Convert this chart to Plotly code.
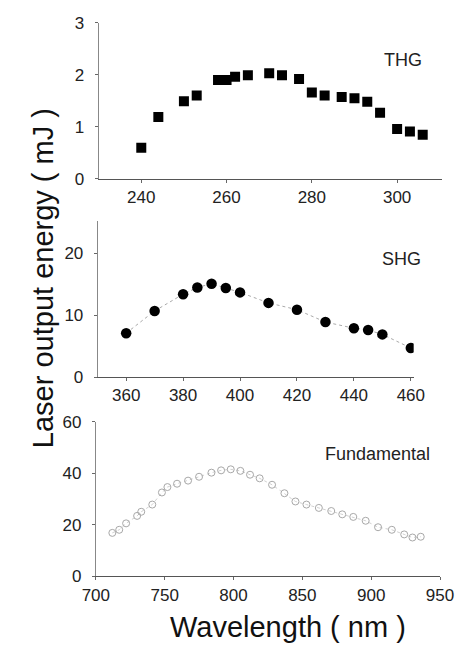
import plotly.graph_objects as go

W, H = 470, 657

# THG data
thg_x = [240, 244, 250, 253, 258, 260, 262, 265, 270, 273, 277, 280, 283, 287, 290, 293, 296, 300, 303, 306]
thg_y = [0.60, 1.19, 1.49, 1.60, 1.90, 1.90, 1.96, 1.99, 2.03, 1.99, 1.92, 1.66, 1.60, 1.57, 1.55, 1.48, 1.27, 0.96, 0.91, 0.85]

# SHG data
shg_x = [360, 370, 380, 385, 390, 395, 400, 410, 420, 430, 440, 445, 450, 460]
shg_y = [7.1, 10.7, 13.4, 14.5, 15.1, 14.4, 13.7, 12.0, 10.9, 8.9, 7.9, 7.6, 6.9, 4.7]

# Fundamental data
fund_x = [712, 717, 722, 730, 733, 741, 748, 752, 759, 767, 775, 784, 791, 798, 805, 812,
          819, 828, 837, 845, 853, 862, 871, 879, 887, 896, 905, 915, 924, 930, 936]
fund_y = [16.8, 18.0, 20.5, 23.4, 25.0, 27.8, 32.5, 34.6, 35.9, 37.1, 38.6, 40.2, 41.1, 41.5, 40.9, 39.4,
          38.0, 35.5, 32.2, 29.0, 27.8, 26.5, 25.3, 24.0, 23.0, 21.5, 19.0, 18.0, 16.2, 15.0, 15.3]

thg_ticks = [240, 260, 280, 300]
shg_ticks = [360, 380, 400, 420, 440, 460]
fund_ticks = [700, 750, 800, 850, 900, 950]

FONT = "Liberation Sans"

def px(x):
    return x / W

def py(y):
    return 1 - y / H

fig = go.Figure()

fig.add_trace(go.Scatter(x=thg_x, y=thg_y, mode="markers", xaxis="x", yaxis="y",
                         marker=dict(symbol="square", size=10, color="black")))
fig.add_trace(go.Scatter(x=shg_x, y=shg_y, mode="lines+markers", xaxis="x2", yaxis="y2",
                         line=dict(color="#aaaaaa", width=1, dash="dot"),
                         marker=dict(symbol="circle", size=10.5, color="black")))
fig.add_trace(go.Scatter(x=fund_x, y=fund_y, mode="lines+markers", xaxis="x3", yaxis="y3",
                         line=dict(color="#d0d0d0", width=1, dash="dot"),
                         marker=dict(symbol="circle-open", size=7, color="#a8a8a8",
                                     line=dict(width=1, color="#a8a8a8"))))

axis_common = dict(showgrid=False, zeroline=False, showline=True, linewidth=1,
                   ticks="outside", ticklen=3, tickcolor="#666666",
                   tickfont=dict(family=FONT, size=17, color="#222222"))
xax = dict(linecolor="#555555", **axis_common)
yax = dict(linecolor="#888888", ticklabelstandoff=7, **axis_common)

fig.update_layout(
    width=W, height=H,
    margin=dict(l=0, r=0, t=0, b=0),
    paper_bgcolor="white", plot_bgcolor="white",
    showlegend=False,
    xaxis=dict(domain=[px(90), px(455)], range=[230, 310.5], anchor="y",
               tickvals=thg_ticks, **xax),
    yaxis=dict(domain=[py(175), py(14)], range=[0, 3], anchor="x",
               tickvals=[0, 1, 2, 3], **yax),
    xaxis2=dict(domain=[px(89), px(425)], range=[350, 461], anchor="y2",
                tickvals=shg_ticks, **xax),
    yaxis2=dict(domain=[py(379), py(218)], range=[0, 25.3], anchor="x2",
                tickvals=[0, 10, 20], **yax),
    xaxis3=dict(domain=[px(87), px(453)], range=[700, 950], anchor="y3",
                tickvals=fund_ticks, **xax),
    yaxis3=dict(domain=[py(584), py(425)], range=[0, 60], anchor="x3",
                tickvals=[0, 20, 40, 60], **yax),
)

ann_font = dict(family=FONT, size=18, color="#222222")
fig.add_annotation(text="THG", x=px(414), y=py(53), xref="paper", yref="paper",
                   showarrow=False, font=ann_font, xanchor="center", yanchor="middle")
fig.add_annotation(text="SHG", x=px(412), y=py(257), xref="paper", yref="paper",
                   showarrow=False, font=ann_font, xanchor="center", yanchor="middle")
fig.add_annotation(text="Fundamental", x=px(386), y=py(458), xref="paper", yref="paper",
                   showarrow=False, font=ann_font, xanchor="center", yanchor="middle")

title_font = dict(family=FONT, size=29, color="#111111")
fig.add_annotation(text="Wavelength ( nm )", x=px(291), y=py(636), xref="paper", yref="paper",
                   showarrow=False, font=title_font, xanchor="center", yanchor="middle")
fig.add_annotation(text="Laser output energy ( mJ )", x=px(31), y=py(277), xref="paper", yref="paper",
                   showarrow=False, font=title_font, textangle=-90, xanchor="center", yanchor="middle")

fig.write_html("out.html")
